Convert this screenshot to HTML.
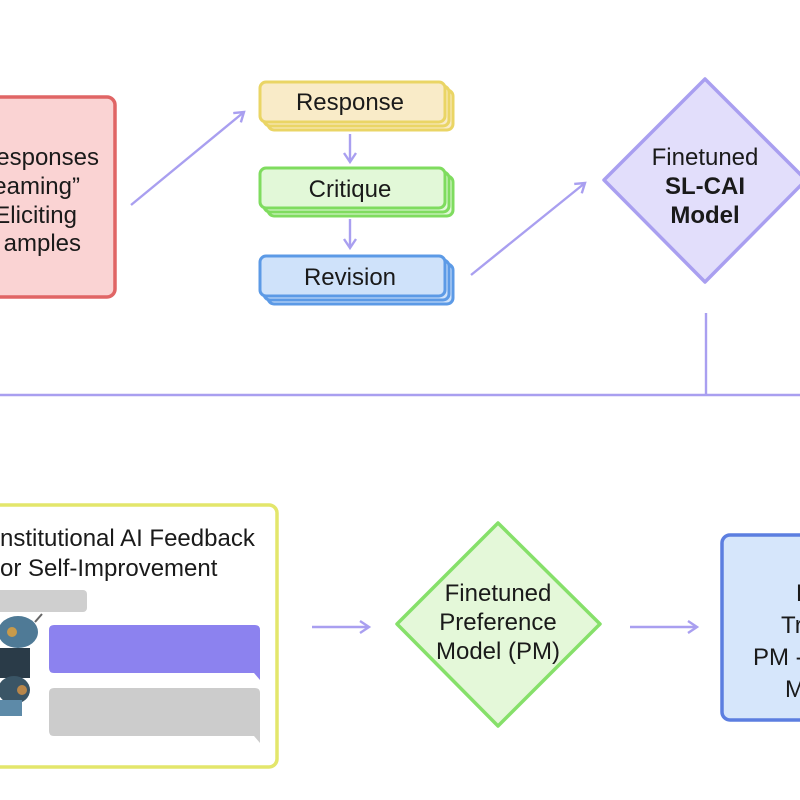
<!DOCTYPE html>
<html><head><style>
html,body{margin:0;padding:0;background:#fff;width:800px;height:800px;overflow:hidden}
svg{display:block}
text{font-family:"Liberation Sans",Arial,sans-serif;fill:#1a1a1a}
</style></head><body>
<svg width="800" height="800" viewBox="0 0 800 800" xmlns="http://www.w3.org/2000/svg">
<defs>
<marker id="a" markerWidth="14" markerHeight="14" refX="11" refY="7" orient="auto" markerUnits="userSpaceOnUse">
<path d="M2,1 L11,7 L2,13" fill="none" stroke="#a99ff0" stroke-width="2.4"/>
</marker>
</defs>
<rect x="-20" y="97" width="135" height="200" rx="8" fill="#fad3d3" stroke="#e06565" stroke-width="3.5"/>
<g font-size="24" text-anchor="end">
<text x="99" y="165">esponses</text>
<text x="80" y="194">eaming”</text>
<text x="77" y="223">Eliciting</text>
<text x="81" y="251">amples</text>
</g>
<g stroke="#a99ff0" stroke-width="2.4" fill="none">
<line x1="131" y1="205" x2="244" y2="112" marker-end="url(#a)"/>
<line x1="471" y1="275" x2="585" y2="183" marker-end="url(#a)"/>
<line x1="350" y1="134" x2="350" y2="162" marker-end="url(#a)"/>
<line x1="350" y1="219" x2="350" y2="248" marker-end="url(#a)"/>
<line x1="312" y1="627" x2="369" y2="627" marker-end="url(#a)"/>
<line x1="630" y1="627" x2="697" y2="627" marker-end="url(#a)"/>
<line x1="706" y1="313" x2="706" y2="395"/>
<line x1="0" y1="395" x2="800" y2="395"/>
</g>
<g stroke-width="3">
<rect x="268" y="90" width="185" height="40" rx="6" fill="#f9ebc8" stroke="#ead565"/>
<rect x="264" y="86" width="185" height="40" rx="6" fill="#f9ebc8" stroke="#ead565"/>
<rect x="260" y="82" width="185" height="40" rx="6" fill="#f9ebc8" stroke="#ead565"/>
<rect x="268" y="176" width="185" height="40" rx="6" fill="#e2f8d8" stroke="#7fdc5f"/>
<rect x="264" y="172" width="185" height="40" rx="6" fill="#e2f8d8" stroke="#7fdc5f"/>
<rect x="260" y="168" width="185" height="40" rx="6" fill="#e2f8d8" stroke="#7fdc5f"/>
<rect x="268" y="264" width="185" height="40" rx="6" fill="#cfe2fa" stroke="#5c9ae6"/>
<rect x="264" y="260" width="185" height="40" rx="6" fill="#cfe2fa" stroke="#5c9ae6"/>
<rect x="260" y="256" width="185" height="40" rx="6" fill="#cfe2fa" stroke="#5c9ae6"/>
</g>
<g font-size="24" text-anchor="middle">
<text x="350" y="110">Response</text>
<text x="350" y="197">Critique</text>
<text x="350" y="285">Revision</text>
</g>
<path d="M705,79 L806,180 L705,282 L604,180 Z" fill="#e2defb" stroke="#a99ff0" stroke-width="3.5" stroke-linejoin="round"/>
<g font-size="24" text-anchor="middle">
<text x="705" y="165">Finetuned</text>
<text x="705" y="194" font-weight="bold">SL-CAI</text>
<text x="705" y="223" font-weight="bold">Model</text>
</g>
<rect x="-20" y="505" width="297" height="262" rx="8" fill="#fff" stroke="#e3e66b" stroke-width="3.5"/>
<g font-size="24">
<text x="0" y="546">nstitutional AI Feedback</text>
<text x="0" y="576">or Self-Improvement</text>
</g>
<rect x="-10" y="590" width="97" height="22" rx="4" fill="#cfcfcf"/>
<path d="M52,625 H255 Q260,625 260,630 V680 L254,673 H54 Q49,673 49,668 V630 Q49,625 54,625 Z" fill="#8c82ef"/>
<path d="M52,688 H255 Q260,688 260,693 V743 L254,736 H54 Q49,736 49,731 V693 Q49,688 54,688 Z" fill="#cccccc"/>
<g>
<ellipse cx="18" cy="632" rx="20" ry="16" fill="#4f7a96"/>
<circle cx="12" cy="632" r="5" fill="#c89a4a"/>
<rect x="0" y="648" width="30" height="30" fill="#2a3b48"/>
<ellipse cx="14" cy="690" rx="16" ry="14" fill="#3a5566"/>
<circle cx="22" cy="690" r="5" fill="#b8864a"/>
<rect x="0" y="700" width="22" height="16" fill="#5d8aa8"/>
<line x1="35" y1="622" x2="42" y2="614" stroke="#666" stroke-width="2"/>
</g>
<path d="M498,523 L600,624 L498,726 L397,624 Z" fill="#e4f8d9" stroke="#86e06a" stroke-width="3.5" stroke-linejoin="round"/>
<g font-size="24" text-anchor="middle">
<text x="498" y="601">Finetuned</text>
<text x="498" y="630">Preference</text>
<text x="498" y="659">Model (PM)</text>
</g>
<rect x="722" y="535" width="100" height="185" rx="8" fill="#d6e6fb" stroke="#5c7ee0" stroke-width="3.5"/>
<g font-size="24">
<text x="796" y="601">F</text>
<text x="781" y="633">Tr</text>
<text x="753" y="665">PM -</text>
<text x="785" y="697">M</text>
</g>
</svg>
</body></html>
